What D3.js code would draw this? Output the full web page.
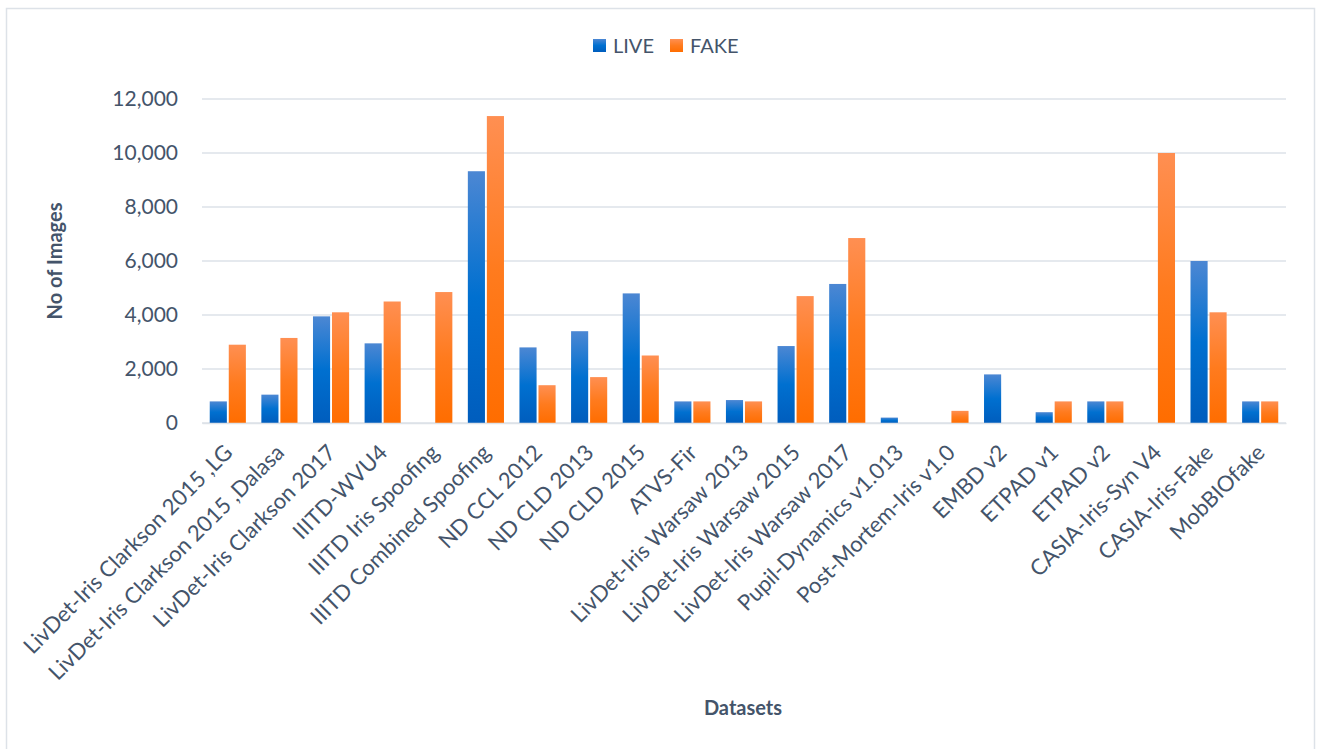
<!DOCTYPE html>
<html>
<head>
<meta charset="utf-8">
<script src="https://cdn.jsdelivr.net/npm/d3@7"></script>
<style>
  body { margin: 0; background: #fff; }
  text { font-family: Lato, "Open Sans", sans-serif; fill: #44546a; }
</style>
</head>
<body>
<script>
const width = 1317;
const height = 749;

const datasets = [
    "LivDet-Iris Clarkson 2015 ,LG", "LivDet-Iris Clarkson 2015 ,Dalasa", "LivDet-Iris Clarkson 2017",
    "IIITD-WVU4", "IIITD Iris Spoofing", "IIITD Combined Spoofing", "ND CCL 2012", "ND CLD 2013",
    "ND CLD 2015", "ATVS-Fir", "LivDet-Iris Warsaw 2013", "LivDet-Iris Warsaw 2015",
    "LivDet-Iris Warsaw 2017", "Pupil-Dynamics v1.013", "Post-Mortem-Iris v1.0", "EMBD v2",
    "ETPAD v1", "ETPAD v2", "CASIA-Iris-Syn V4", "CASIA-Iris-Fake", "MobBIOfake"
];
const live = [800, 1050, 3950, 2950, 0, 9325, 2800, 3400, 4800, 800, 850, 2850, 5150, 200, 0, 1800, 400, 800, 0, 6000, 800];
const fake = [2900, 3150, 4100, 4500, 4850, 11368, 1400, 1700, 2500, 800, 800, 4700, 6850, 0, 450, 0, 800, 800, 10000, 4100, 800];
const seriesNames = ["LIVE", "FAKE"];
const yTicks = [0, 2000, 4000, 6000, 8000, 10000, 12000];

const margin = { top: 99, left: 202, right: 31, bottom: 326 };
const plotW = width - margin.left - margin.right;
const plotH = height - margin.top - margin.bottom;

const svg = d3.select("body").append("svg")
    .attr("width", width)
    .attr("height", height);

// gradients like the office bar fill
const defs = svg.append("defs");
const grads = {
    LIVE: [["0%", "#4c87d3"], ["50%", "#0070d0"], ["100%", "#005dbd"]],
    FAKE: [["0%", "#ff8f52"], ["50%", "#ff7b1e"], ["100%", "#ff6d00"]]
};
Object.entries(grads).forEach(([name, stops]) => {
    const g = defs.append("linearGradient")
        .attr("id", "grad" + name)
        .attr("x1", 0).attr("y1", 0).attr("x2", 0).attr("y2", 1);
    stops.forEach(([o, c]) => g.append("stop").attr("offset", o).attr("stop-color", c));
});

// outer border
svg.append("rect")
    .attr("x", 6.5).attr("y", 8.5)
    .attr("width", 1308).attr("height", 760)
    .style("fill", "none")
    .style("stroke", "#dde2e8")
    .style("stroke-width", 1.5);

const g = svg.append("g").attr("transform", `translate(${margin.left},${margin.top})`);

const x0 = d3.scaleBand().domain(datasets).range([0, plotW]).paddingInner(0.3).paddingOuter(0.15);
const x1 = d3.scaleBand().domain(seriesNames).range([0, x0.bandwidth()]).paddingInner(0.1);
const y = d3.scaleLinear().domain([0, 12000]).range([plotH, 0]);

// gridlines
g.append("g")
    .selectAll("line")
    .data(yTicks)
    .enter().append("line")
    .attr("x1", 0).attr("x2", plotW)
    .attr("y1", d => y(d)).attr("y2", d => y(d))
    .style("stroke", "#dde2e8")
    .style("stroke-width", 1.5);

// y axis labels
const yAxis = g.append("g")
    .call(d3.axisLeft(y).tickValues(yTicks).tickFormat(d3.format(",")).tickSize(0).tickPadding(24));
yAxis.select(".domain").remove();
yAxis.selectAll("text").style("font-size", "21px").style("fill", "#44546a")
    .style("font-family", "Lato, 'Open Sans', sans-serif");

// bars
const rows = datasets.map((d, i) => ({ name: d, values: [live[i], fake[i]] }));
const groups = g.selectAll(".grp")
    .data(rows)
    .enter().append("g")
    .attr("transform", d => `translate(${x0(d.name)},0)`);

groups.selectAll("rect")
    .data(d => d.values.map((v, k) => ({ key: seriesNames[k], value: v })))
    .enter().append("rect")
    .filter(d => d.value > 0)
    .attr("x", d => x1(d.key))
    .attr("y", d => y(d.value))
    .attr("width", x1.bandwidth())
    .attr("height", d => plotH - y(d.value))
    .style("fill", d => `url(#grad${d.key})`);

// x axis
const xAxis = g.append("g")
    .attr("transform", `translate(0,${plotH})`)
    .call(d3.axisBottom(x0).tickSize(0).tickPadding(0));
xAxis.select(".domain").style("stroke", "#dde2e8").style("stroke-width", 1.5);
xAxis.selectAll("text")
    .style("font-size", "22px")
    .style("fill", "#44546a")
    .style("font-family", "Lato, 'Open Sans', sans-serif")
    .attr("text-anchor", "end")
    .attr("dy", null)
    .attr("transform", "translate(6,31) rotate(-45)");

// axis titles
svg.append("text")
    .attr("transform", "translate(62,261) rotate(-90)")
    .attr("text-anchor", "middle")
    .style("font-size", "20px")
    .style("font-weight", "bold")
    .text("No of Images");

svg.append("text")
    .attr("x", 743).attr("y", 715)
    .attr("text-anchor", "middle")
    .style("font-size", "20px")
    .style("font-weight", "bold")
    .text("Datasets");

// legend
const legend = svg.append("g").attr("transform", "translate(593,39)");
const legX = [0, 77];
seriesNames.forEach((s, i) => {
    legend.append("rect")
        .attr("x", legX[i]).attr("y", 0)
        .attr("width", 13).attr("height", 13)
        .style("fill", `url(#grad${s})`);
    legend.append("text")
        .attr("x", legX[i] + 20).attr("y", 14)
        .style("font-size", "20px")
        .text(s);
});
</script>
</body>
</html>
